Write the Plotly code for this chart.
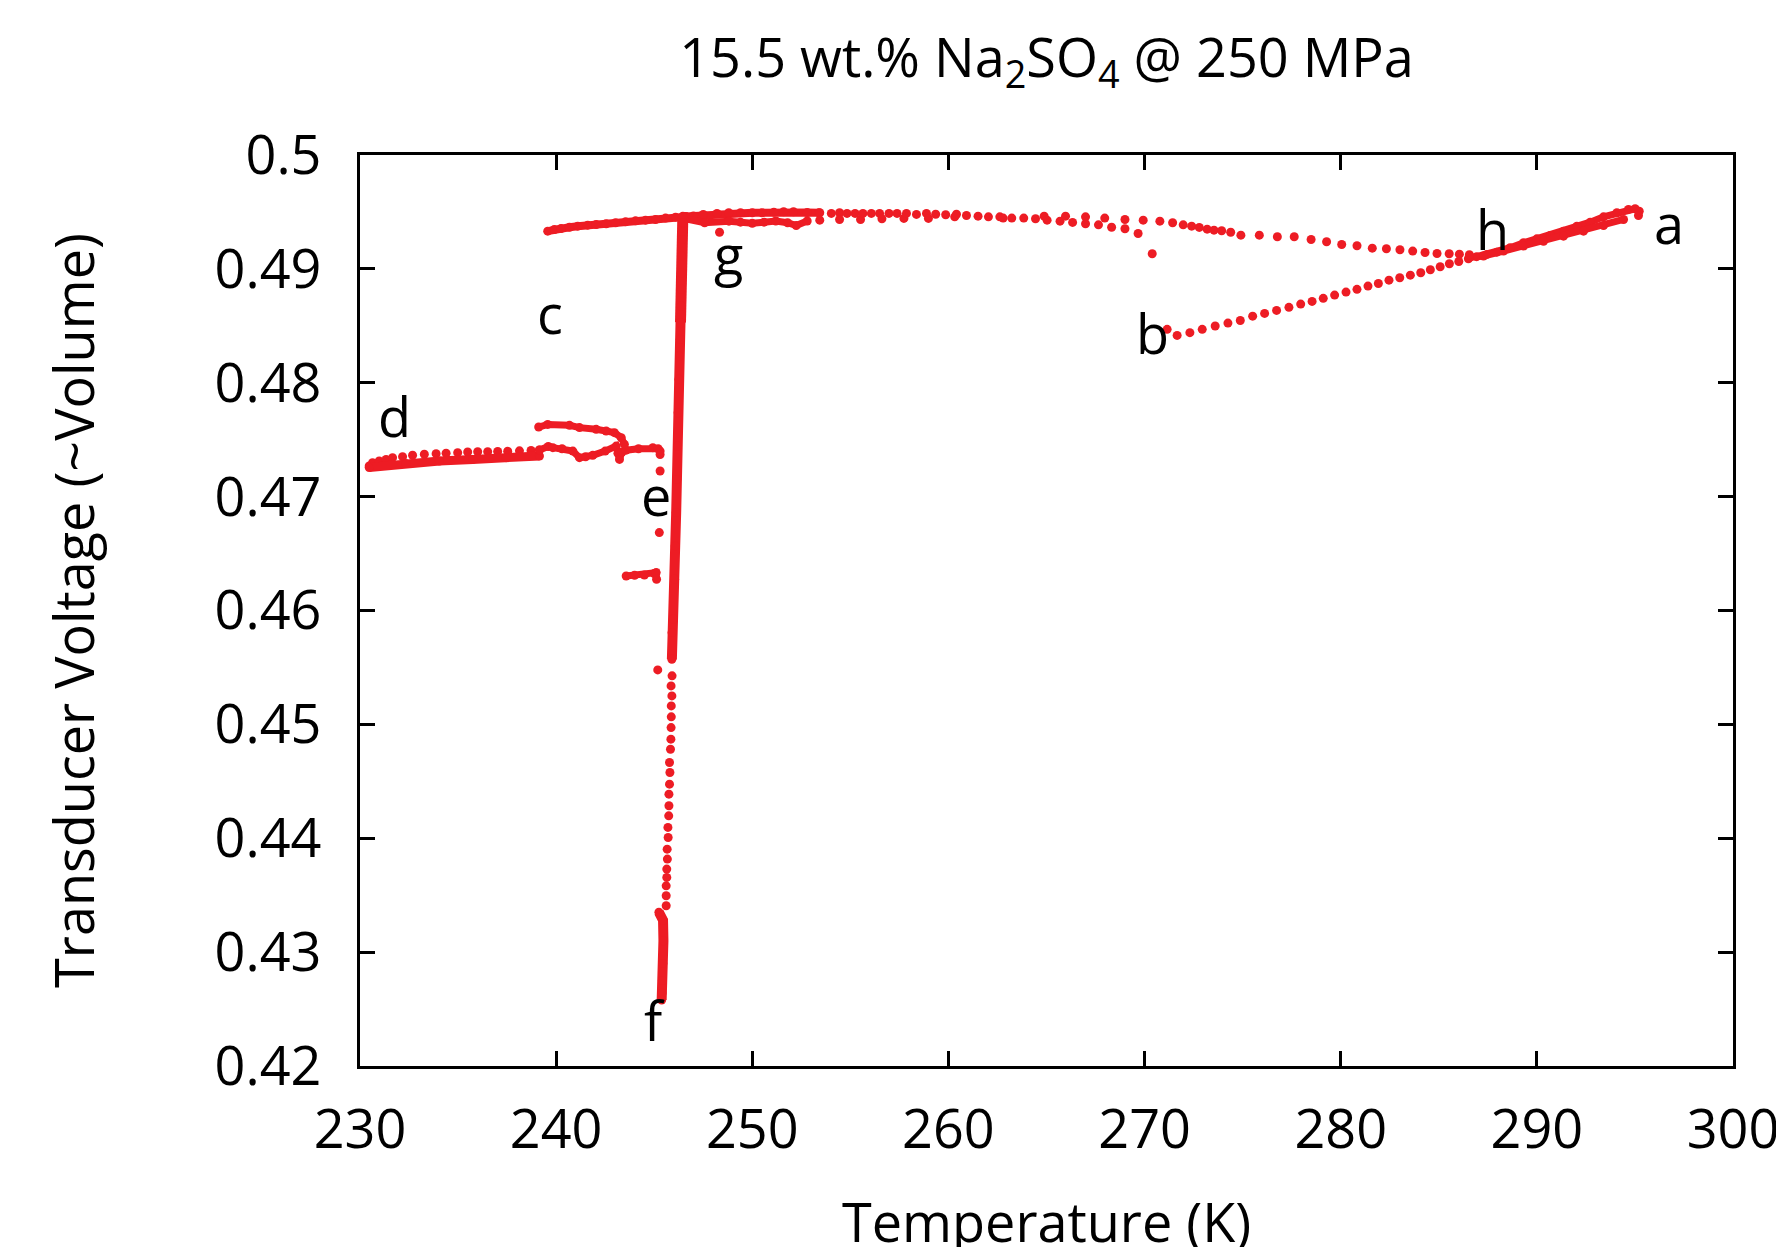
import plotly.graph_objects as go

# ---------------- data (Temperature K, Transducer Voltage) ----------------
# a -> b cooling (dotted part, from h down to b)
bh_T = [271.15, 271.66, 272.31, 272.94, 273.60, 274.25, 274.88, 275.51, 276.12, 276.73,
        277.36, 277.96, 278.54, 279.11, 279.69, 280.27, 280.83, 281.39, 281.92, 282.46,
        283.01, 283.55, 284.08, 284.57, 285.07, 285.54, 286.02, 286.51]
bh_V = [0.48469, 0.48416, 0.48440, 0.48469, 0.48498, 0.48524, 0.48547, 0.48585, 0.48609, 0.48635,
        0.48662, 0.48691, 0.48714, 0.48741, 0.48770, 0.48796, 0.48820, 0.48849, 0.48872, 0.48901,
        0.48922, 0.48945, 0.48966, 0.48992, 0.49019, 0.49045, 0.49065, 0.49089]

# dense h - a branches
ha_up_T = [286.93, 287.45, 287.96, 288.64, 289.32, 290.00, 290.68, 291.36, 292.04, 292.72,
           293.40, 294.08, 294.67, 295.01, 295.22, 295.18]
ha_up_V = [0.49107, 0.49127, 0.49147, 0.49186, 0.49229, 0.49264, 0.49293, 0.49331, 0.49375, 0.49410,
           0.49457, 0.49493, 0.49522, 0.49528, 0.49507, 0.49469]
ha_lo_T = [286.56, 287.28, 288.30, 289.32, 290.34, 291.36, 292.38, 293.40, 294.42]
ha_lo_V = [0.49100, 0.49112, 0.49156, 0.49200, 0.49243, 0.49287, 0.49331, 0.49381, 0.49434]

# c -> g upper left branch
cg_T = [239.57, 239.91, 240.25, 240.68, 241.10, 241.61, 242.04, 242.55, 243.03, 243.54,
        244.05, 244.56, 245.07, 245.58, 246.09, 246.63]
cg_V = [0.49331, 0.49346, 0.49355, 0.49366, 0.49375, 0.49384, 0.49390, 0.49396, 0.49405, 0.49413,
        0.49422, 0.49428, 0.49434, 0.49446, 0.49454, 0.49457]

# dense top band right of g
top_up_T = [246.60, 247.00, 247.50, 248.20, 248.80, 249.40, 250.00, 250.50, 251.10, 251.60,
            252.10, 252.80, 253.40]
top_up_V = [0.49460, 0.49465, 0.49478, 0.49487, 0.49493, 0.49493, 0.49493, 0.49493, 0.49498, 0.49502,
            0.49502, 0.49495, 0.49493]
top_lo_T = [246.60, 247.57, 248.81, 249.40, 250.00, 250.60, 251.20, 251.80, 252.24, 252.80]
top_lo_V = [0.49440, 0.49405, 0.49419, 0.49410, 0.49400, 0.49410, 0.49420, 0.49405, 0.49381, 0.49420]

# dotted top line g -> h
gh_T = [253.44, 253.44, 254.03, 254.45, 254.45, 254.83, 255.24, 255.52, 255.64, 256.07,
        256.49, 256.61, 256.97, 257.38, 257.73, 257.86, 258.37, 258.88, 258.98, 259.35,
        259.86, 260.32, 260.41, 260.92, 261.51, 262.04, 262.62, 262.79, 263.23, 263.84,
        264.44, 264.88, 265.03, 265.69, 265.97, 266.33, 266.99, 266.99, 267.65, 267.97,
        268.32, 269.00, 269.00, 269.67, 269.93, 270.78, 271.43, 271.97, 272.40, 272.79,
        273.19, 273.54, 273.93, 274.39, 274.91, 275.85, 276.77, 277.63, 278.49, 279.28,
        280.05, 280.83, 281.61, 282.33, 283.02, 283.67, 284.30, 284.91, 285.53, 286.05,
        286.56]
gh_V = [0.49493, 0.49428, 0.49487, 0.49493, 0.49434, 0.49487, 0.49487, 0.49434, 0.49487, 0.49487,
        0.49487, 0.49440, 0.49487, 0.49487, 0.49443, 0.49487, 0.49478, 0.49487, 0.49443, 0.49480,
        0.49475, 0.49457, 0.49480, 0.49469, 0.49463, 0.49457, 0.49457, 0.49446, 0.49446, 0.49446,
        0.49440, 0.49463, 0.49428, 0.49419, 0.49463, 0.49408, 0.49457, 0.49396, 0.49387, 0.49446,
        0.49366, 0.49434, 0.49352, 0.49311, 0.49428, 0.49419, 0.49405, 0.49387, 0.49375, 0.49364,
        0.49349, 0.49340, 0.49335, 0.49322, 0.49296, 0.49296, 0.49282, 0.49282, 0.49258, 0.49238,
        0.49214, 0.49203, 0.49182, 0.49177, 0.49168, 0.49156, 0.49144, 0.49135, 0.49133, 0.49129,
        0.49124]

# d -> e lower curve (dotted upper edge and dense lower edge)
d_up_T = [230.47, 230.64, 230.98, 231.33, 231.66, 232.17, 232.68, 233.28, 233.88, 234.39,
          234.98, 235.49, 236.00, 236.51, 237.02, 237.53, 238.13, 238.72, 239.15]
d_up_V = [0.47269, 0.47298, 0.47313, 0.47327, 0.47342, 0.47351, 0.47363, 0.47372, 0.47377, 0.47381,
          0.47386, 0.47392, 0.47394, 0.47395, 0.47397, 0.47398, 0.47402, 0.47405, 0.47410]
d_lo_T = [230.47, 232.34, 234.05, 235.75, 237.45, 239.15]
d_lo_V = [0.47255, 0.47290, 0.47313, 0.47327, 0.47342, 0.47357]

# branch towards e
e_br_T = [239.15, 239.60, 239.83, 240.30, 240.85, 241.19, 241.50, 241.87, 242.50, 243.06,
          243.15, 243.23, 243.35, 243.57, 244.20, 244.93, 245.20, 245.30, 245.30]
e_br_V = [0.47410, 0.47440, 0.47430, 0.47420, 0.47400, 0.47342, 0.47350, 0.47363, 0.47400, 0.47444,
          0.47380, 0.47327, 0.47390, 0.47408, 0.47420, 0.47430, 0.47420, 0.47400, 0.47370]

# short upper branch near c
c_br_T = [239.11, 239.57, 240.68, 241.19, 242.04, 242.55, 242.97, 243.32, 243.48]
c_br_V = [0.47611, 0.47634, 0.47626, 0.47606, 0.47591, 0.47576, 0.47562, 0.47518, 0.47459]

# short segment below e
e_seg_T = [243.57, 244.00, 244.50, 245.00, 245.10, 245.12]
e_seg_V = [0.46303, 0.46310, 0.46312, 0.46325, 0.46333, 0.46274]

# isolated points
iso_T = [245.30, 245.26, 245.18, 248.33, 270.39]
iso_V = [0.47225, 0.46684, 0.45478, 0.49322, 0.49133]

# f -> g column (top part thick, middle dense, lower dotted, bottom dense)
col_top_T = [246.46, 246.46, 246.43, 246.39, 246.39, 246.38, 246.38, 246.34]
col_top_V = [0.49463, 0.49405, 0.49258, 0.49112, 0.48966, 0.48820, 0.48673, 0.48527]
col_mid_T = [246.34, 246.33, 246.29, 246.26, 246.22, 246.19, 246.15, 246.12, 246.07, 246.04,
             245.98, 245.91, 245.90]
col_mid_V = [0.48527, 0.48381, 0.48234, 0.48030, 0.47737, 0.47444, 0.47151, 0.46860, 0.46567, 0.46274,
             0.45925, 0.45806, 0.45572]
col_dot_T = [245.91, 245.86, 245.90, 245.87, 245.87, 245.86, 245.85, 245.83, 245.78, 245.80,
             245.78, 245.75, 245.75, 245.74, 245.70, 245.71, 245.66, 245.67, 245.64, 245.64,
             245.61, 245.61, 245.61]
col_dot_V = [0.45426, 0.45338, 0.45250, 0.45162, 0.45066, 0.44972, 0.44870, 0.44782, 0.44665, 0.44577,
             0.44475, 0.44387, 0.44285, 0.44197, 0.44095, 0.44007, 0.43904, 0.43817, 0.43729, 0.43656,
             0.43582, 0.43495, 0.43407]
col_bot_T = [245.24, 245.45, 245.47, 245.44, 245.42, 245.40, 245.38]
col_bot_V = [0.43350, 0.43280, 0.43100, 0.42900, 0.42750, 0.42640, 0.42580]

# point labels
lab_text = ["a", "b", "c", "d", "e", "f", "g", "h"]
lab_T = [296.72, 270.38, 239.70, 231.76, 245.10, 245.02, 248.80, 287.74]
lab_V = [0.4940, 0.4844, 0.4861, 0.4771, 0.4701, 0.4240, 0.4913, 0.4935]

# ---------------- figure ----------------
RED = "#ED1C24"
MS = 9
FONT = "Open Sans, Lato, DejaVu Sans, sans-serif"

fig = go.Figure()

def dense(T, V, w):
    fig.add_trace(go.Scatter(x=T, y=V, mode="lines+markers",
                             line=dict(color=RED, width=w),
                             marker=dict(color=RED, size=MS),
                             showlegend=False, hoverinfo="skip"))

def dots(T, V):
    fig.add_trace(go.Scatter(x=T, y=V, mode="markers",
                             marker=dict(color=RED, size=MS),
                             showlegend=False, hoverinfo="skip"))

dots(bh_T, bh_V)
dense(ha_up_T, ha_up_V, 7)
dense(ha_lo_T, ha_lo_V, 7)
dense(cg_T, cg_V, 8)
dense(top_up_T, top_up_V, 8)
dense(top_lo_T, top_lo_V, 7)
dots(gh_T, gh_V)
dots(d_up_T, d_up_V)
dense(d_lo_T, d_lo_V, 9)
dense(e_br_T, e_br_V, 7)
dense(c_br_T, c_br_V, 7)
dense(e_seg_T, e_seg_V, 7)
dots(iso_T, iso_V)
dense(col_top_T, col_top_V, 11)
dense(col_mid_T, col_mid_V, 10)
dots(col_dot_T, col_dot_V)
dense(col_bot_T, col_bot_V, 10)

for t, x, y in zip(lab_text, lab_T, lab_V):
    fig.add_annotation(x=x, y=y, text=t, showarrow=False,
                       font=dict(family=FONT, size=54, color="black"),
                       xanchor="center", yanchor="middle")

# x-axis title placed as paper annotation so it can sit at the very bottom edge
fig.add_annotation(x=0.5, y=-0.170, xref="paper", yref="paper", text="Temperature (K)",
                   showarrow=False, xanchor="center", yanchor="middle",
                   font=dict(family=FONT, size=54, color="black"))

axis_common = dict(showline=True, linecolor="black", linewidth=2.5, mirror="ticks",
                   ticks="inside", ticklen=15, tickwidth=2.5, tickcolor="black",
                   showgrid=False, zeroline=False, automargin=False,
                   tickfont=dict(family=FONT, size=54, color="black"))

fig.update_xaxes(range=[230, 300], dtick=10, tick0=230, ticklabelstandoff=14,
                 **axis_common)
fig.update_yaxes(range=[0.42, 0.5], dtick=0.01, tick0=0.42, ticklabelstandoff=25,
                 title=dict(text="Transducer Voltage (~Volume)", standoff=103,
                            font=dict(family=FONT, size=54, color="black")),
                 **axis_common)

W, H = 1776, 1239
fig.update_layout(
    width=W, height=H,
    margin=dict(l=352, r=51, t=147, b=181, autoexpand=False),
    paper_bgcolor="white", plot_bgcolor="white",
    title=dict(text="15.5 wt.% Na<sub>2</sub>SO<sub>4</sub> @ 250 MPa",
               x=(352 + (W - 51)) / 2 / W, xanchor="center",
               y=1 - 50 / H, yanchor="middle", yref="container",
               font=dict(family=FONT, size=54, color="black")),
)

fig.write_html("out.html")
